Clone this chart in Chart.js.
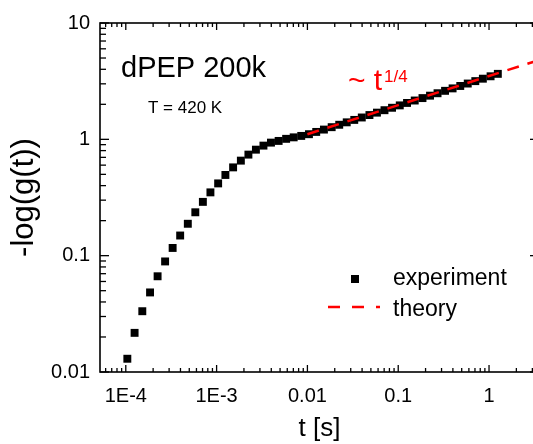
<!DOCTYPE html>
<html><head><meta charset="utf-8">
<script src="https://cdn.jsdelivr.net/npm/chart.js@4/dist/chart.umd.min.js"></script>
<style>
html,body{margin:0;padding:0;overflow:hidden;background:#fff;}
#wrap{position:relative;width:545px;height:444px;}
</style></head><body>
<div id="wrap"><canvas id="c"></canvas></div>
<script>
// ---- data ----
const timeExp = [
  1.04e-4, 1.25e-4, 1.52e-4, 1.85e-4, 2.24e-4, 2.71e-4, 3.28e-4, 3.97e-4, 4.82e-4, 5.83e-4, 7.06e-4, 8.55e-4,
  1.04e-3, 1.25e-3, 1.52e-3, 1.85e-3, 2.24e-3, 2.71e-3, 3.28e-3, 3.97e-3, 4.82e-3, 5.83e-3, 7.06e-3, 8.55e-3,
  1.04e-2, 1.25e-2, 1.52e-2, 1.85e-2, 2.24e-2, 2.71e-2, 3.28e-2, 3.97e-2, 4.82e-2, 5.83e-2, 7.06e-2, 8.55e-2,
  0.104, 0.125, 0.152, 0.185, 0.224, 0.271, 0.328, 0.397, 0.482, 0.583, 0.706, 0.855,
  1.04, 1.25
];
const gExp = [
  0.0130, 0.0217, 0.0333, 0.0483, 0.0665, 0.0892, 0.1165, 0.149, 0.188, 0.236,
  0.290, 0.350, 0.418, 0.494, 0.574, 0.656, 0.739, 0.815, 0.883, 0.937,
  0.969, 1.01, 1.04, 1.07, 1.107, 1.158, 1.213, 1.272, 1.334, 1.400,
  1.469, 1.541, 1.617, 1.696, 1.780, 1.868, 1.958, 2.055, 2.156, 2.262,
  2.373, 2.490, 2.612, 2.741, 2.875, 3.017, 3.165, 3.321, 3.483, 3.655
];
const timeTheory = [0.01, 0.1, 1, 3.55];
const gTheory = [1.107, 1.968, 3.5, 4.80];

const xMajorTicks = [1e-4, 1e-3, 0.01, 0.1, 1];
const xMajorLabels = ['1E-4', '1E-3', '0.01', '0.1', '1'];
const yMajorTicks = [0.01, 0.1, 1, 10];
const yMajorLabels = ['0.01', '0.1', '1', '10'];

const seriesLabels = ['experiment', 'theory'];
// --------------------------------------

const FONT = '"Liberation Sans", Arial, sans-serif';

function logTicks(min, max) {
  const out = [];
  for (let d = Math.floor(Math.log10(min)); d <= Math.ceil(Math.log10(max)); d++) {
    for (let m = 1; m <= 9; m++) {
      const v = m * Math.pow(10, d);
      if (v >= min * 0.999999 && v <= max * 1.000001) out.push(v);
    }
  }
  return out;
}
function isMajor(v) {
  const l = Math.log10(v);
  return Math.abs(l - Math.round(l)) < 1e-6;
}
function labelFor(v, majors, labels) {
  const i = majors.findIndex(m => Math.abs(m - v) / m < 1e-6);
  return i >= 0 ? labels[i] : '';
}

const framePlugin = {
  id: 'frame',
  afterDraw(chart) {
    const {ctx, chartArea: a, scales: {x, y}} = chart;
    ctx.save();
    ctx.strokeStyle = '#000';
    ctx.lineWidth = 1.6;
    ctx.strokeRect(a.left, a.top, a.right - a.left, a.bottom - a.top);
    ctx.lineWidth = 1.3;
    const seg = (x1, y1, x2, y2) => { ctx.beginPath(); ctx.moveTo(x1, y1); ctx.lineTo(x2, y2); ctx.stroke(); };
    x.ticks.forEach(t => {
      const px = x.getPixelForValue(t.value);
      const L = isMajor(t.value) ? 7 : 4;
      seg(px, a.bottom, px, a.bottom - L);
      seg(px, a.top, px, a.top + L);
    });
    y.ticks.forEach(t => {
      const py = y.getPixelForValue(t.value);
      const L = isMajor(t.value) ? 9 : 6;
      seg(a.left, py, a.left + L, py);
      seg(a.right, py, a.right - L, py);
    });

    // annotations
    ctx.fillStyle = '#000';
    ctx.textBaseline = 'alphabetic';
    ctx.textAlign = 'left';
    ctx.font = '29px ' + FONT;
    ctx.fillText('dPEP 200k', 121, 77);
    ctx.font = '17px ' + FONT;
    ctx.fillText('T = 420 K', 148, 113);
    ctx.fillStyle = '#f00';
    ctx.font = '30px ' + FONT;
    ctx.fillText('~ t', 348, 90);
    ctx.font = '17px ' + FONT;
    ctx.fillText('1/4', 384, 82);

    // legend
    const ds = chart.data.datasets;
    ctx.fillStyle = ds[0].backgroundColor;
    ctx.fillRect(351, 275, 8, 8);
    ctx.strokeStyle = ds[1].borderColor;
    ctx.lineWidth = 2.5;
    ctx.setLineDash([12, 12]);
    seg(328, 307, 380, 307);
    ctx.setLineDash([]);
    ctx.fillStyle = '#000';
    ctx.font = '23px ' + FONT;
    ctx.textBaseline = 'middle';
    ctx.fillText(ds[0].label, 393, 279);
    ctx.fillText(ds[1].label, 393, 310);
    ctx.restore();
  }
};

new Chart(document.getElementById('c'), {
  type: 'scatter',
  data: {
    datasets: [
      {
        label: seriesLabels[0],
        data: timeExp.map((t, i) => ({x: t, y: gExp[i]})),
        pointStyle: 'rect',
        pointRadius: 5.6,
        pointHoverRadius: 5.6,
        backgroundColor: '#000',
        borderColor: '#000',
        borderWidth: 0,
        showLine: false,
        order: 1
      },
      {
        label: seriesLabels[1],
        data: timeTheory.map((t, i) => ({x: t, y: gTheory[i]})),
        showLine: true,
        borderColor: '#f00',
        backgroundColor: '#f00',
        borderWidth: 2.5,
        borderDash: [12, 9],
        pointRadius: 0,
        order: 0
      }
    ]
  },
  options: {
    responsive: true,
    maintainAspectRatio: false,
    animation: false,
    layout: {padding: {top: 23, right: 6, left: 0, bottom: 0}},
    plugins: {legend: {display: false}, tooltip: {enabled: false}},
    scales: {
      x: {
        type: 'logarithmic',
        min: 5.2e-5,
        max: 3.55,
        grid: {display: false, drawTicks: false},
        border: {display: false},
        afterBuildTicks: s => { s.ticks = logTicks(s.min, s.max).map(v => ({value: v})); },
        afterFit: s => { s.height = 72; },
        ticks: {
          autoSkip: false, maxRotation: 0, minRotation: 0, padding: 12,
          color: '#000', font: {family: FONT, size: 20},
          callback: v => labelFor(v, xMajorTicks, xMajorLabels)
        },
        title: {display: true, text: 't [s]', color: '#000', font: {family: FONT, size: 26}, padding: {top: 0, bottom: 0}}
      },
      y: {
        type: 'logarithmic',
        min: 0.01,
        max: 10,
        grid: {display: false, drawTicks: false},
        border: {display: false},
        afterBuildTicks: s => { s.ticks = logTicks(s.min, s.max).map(v => ({value: v})); },
        afterFit: s => { s.width = 100; },
        ticks: {
          autoSkip: false, padding: 10,
          color: '#000', font: {family: FONT, size: 20},
          callback: v => labelFor(v, yMajorTicks, yMajorLabels)
        },
        title: {display: true, text: '-log(g(t))', color: '#000', font: {family: FONT, size: 31}, padding: {top: 6, bottom: 0}}
      }
    }
  },
  plugins: [framePlugin]
});
</script>
</body></html>
